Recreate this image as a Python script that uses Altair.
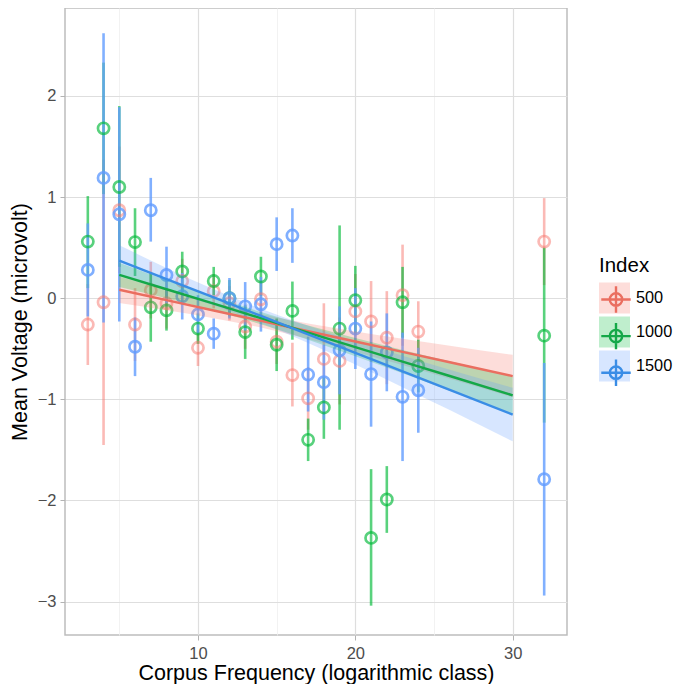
import altair as alt
import pandas as pd

# ---------------- data ----------------
series = ["500", "1000", "1500"]
freq = [3, 4, 5, 6, 7, 8, 9, 10, 11, 12, 13, 14, 15, 16, 17, 18, 19, 20, 21, 22, 23, 24, 32]

r_mean = [-0.26, -0.04, 0.87, -0.26, 0.08, -0.05, 0.17, -0.49, 0.07, -0.05, -0.28, -0.01,
          -0.43, -0.76, -0.99, -0.60, -0.62, -0.13, -0.23, -0.39, 0.03, -0.33, 0.56]
r_lo = [-0.66, -1.45, 0.25, -0.62, -0.20, -0.30, -0.05, -0.67, -0.10, -0.22, -0.50, -0.20,
        -0.65, -1.07, -1.30, -1.15, -1.05, -0.50, -0.63, -0.85, -0.47, -0.63, 0.13]
r_hi = [0.14, 1.37, 1.50, 0.10, 0.36, 0.20, 0.39, -0.31, 0.24, 0.12, -0.06, 0.18,
        -0.21, -0.44, -0.68, -0.05, -0.19, 0.24, 0.17, 0.07, 0.53, -0.03, 0.99]

g_mean = [0.56, 1.68, 1.10, 0.555, -0.09, -0.12, 0.265, -0.30, 0.17, 0.0, -0.335, 0.215,
          -0.46, -0.125, -1.40, -1.08, -0.30, -0.02, -2.37, -1.99, -0.04, -0.67, -0.37]
g_lo = [0.10, 1.03, 0.31, 0.22, -0.43, -0.32, 0.06, -0.45, 0.03, -0.18, -0.60, 0.02,
        -0.72, -0.41, -1.61, -1.39, -1.30, -0.36, -3.04, -2.32, -0.39, -0.93, -1.23]
g_hi = [1.01, 2.33, 1.90, 0.89, 0.25, 0.08, 0.46, -0.15, 0.31, 0.18, -0.07, 0.41,
        -0.20, 0.165, -1.19, -0.78, 0.72, 0.32, -1.69, -1.66, 0.31, -0.41, 0.50]

b_mean = [0.28, 1.19, 0.83, -0.48, 0.87, 0.23, 0.02, -0.16, -0.35, 0.0, -0.08, -0.06,
          0.535, 0.62, -0.755, -0.83, -0.515, -0.30, -0.75, -0.535, -0.975, -0.91, -1.79]
b_lo = [-0.18, -0.24, -0.23, -0.77, 0.56, -0.05, -0.21, -0.35, -0.50, -0.20, -0.32, -0.33,
        0.27, 0.35, -1.12, -1.20, -0.95, -0.70, -1.27, -0.92, -1.61, -1.33, -2.94]
b_hi = [0.74, 2.62, 1.89, -0.19, 1.19, 0.51, 0.25, 0.03, -0.20, 0.20, 0.16, 0.21,
        0.80, 0.89, -0.38, -0.46, -0.08, 0.10, -0.23, -0.15, -0.34, -0.49, -0.64]

# fitted regression lines with confidence bands (sampled along x)
fit_x = [5, 8, 11, 14, 17, 20, 23, 26, 30]
r_fit = [0.084, -0.018, -0.121, -0.223, -0.326, -0.428, -0.531, -0.633, -0.77]
r_flo = [-0.046, -0.118, -0.197, -0.289, -0.402, -0.528, -0.661, -0.796, -0.98]
r_fhi = [0.214, 0.082, -0.045, -0.157, -0.250, -0.328, -0.401, -0.470, -0.56]
g_fit = [0.232, 0.089, -0.054, -0.197, -0.340, -0.483, -0.626, -0.769, -0.96]
g_flo = [0.112, -0.001, -0.124, -0.257, -0.410, -0.573, -0.741, -0.914, -1.145]
g_fhi = [0.352, 0.179, 0.016, -0.137, -0.270, -0.393, -0.511, -0.624, -0.775]
b_fit = [0.373, 0.190, 0.008, -0.175, -0.358, -0.541, -0.724, -0.906, -1.150]
b_flo = [0.223, 0.080, -0.072, -0.245, -0.443, -0.656, -0.879, -1.106, -1.415]
b_fhi = [0.523, 0.300, 0.088, -0.105, -0.273, -0.426, -0.569, -0.706, -0.885]

x_ticks = [5, 10, 15, 20, 25, 30]
y_ticks = [-3, -2.5, -2, -1.5, -1, -0.5, 0, 0.5, 1, 1.5, 2, 2.5]

# ---------------- styles ----------------
point_colors = ["#F8766D", "#00BA38", "#619CFF"]
point_opacity = [0.5, 0.8, 0.5]
line_colors = ["#EA6E60", "#14A848", "#3A8DE6", "#000000"]
ribbon_colors = ["#F8766D", "#00BA38", "#619CFF", "#FFFFFF"]
FONT = "Liberation Sans"

rows = []
for s, m, lo, hi in zip(series, [r_mean, g_mean, b_mean], [r_lo, g_lo, b_lo], [r_hi, g_hi, b_hi]):
    for f, a, b, c in zip(freq, m, lo, hi):
        rows.append({"Index": s, "freq": f, "mean": a, "lo": b, "hi": c})
pts = pd.DataFrame(rows)

frows = []
for s, m, lo, hi in zip(series, [r_fit, g_fit, b_fit], [r_flo, g_flo, b_flo], [r_fhi, g_fhi, b_fhi]):
    for f, a, b, c in zip(fit_x, m, lo, hi):
        frows.append({"Index": s, "freq": f, "fit": a, "flo": b, "fhi": c})
fits = pd.DataFrame(frows)

x_axis = alt.Axis(
    values=x_ticks,
    format="d",
    labelExpr="datum.value % 10 === 0 ? datum.label : ''",
    gridColor={"condition": {"test": "datum.value % 10 !== 0", "value": "#EFEFEF"}, "value": "#DEDEDE"},
    gridWidth={"condition": {"test": "datum.value % 10 !== 0", "value": 0.8}, "value": 1.2},
    tickOpacity={"condition": {"test": "datum.value % 10 !== 0", "value": 0}, "value": 1},
    title="Corpus Frequency (logarithmic class)",
    labelPadding=5,
    titlePadding=1,
)
y_axis = alt.Axis(
    values=y_ticks,
    format="d",
    labelExpr="datum.value % 1 === 0 ? datum.label : ''",
    gridColor={"condition": {"test": "datum.value % 1 !== 0", "value": "#EFEFEF"}, "value": "#DEDEDE"},
    gridWidth={"condition": {"test": "datum.value % 1 !== 0", "value": 0.8}, "value": 1.2},
    tickOpacity={"condition": {"test": "datum.value % 1 !== 0", "value": 0}, "value": 1},
    title="Mean Voltage (microvolt)",
    labelPadding=4,
    titlePadding=6,
)
xs = alt.Scale(domain=[1.55, 33.45], nice=False, zero=False)
ys = alt.Scale(domain=[-3.33, 2.87], nice=False, zero=False)

color_enc = alt.Color("Index:N", scale=alt.Scale(domain=series, range=point_colors), legend=None)
opac_enc = alt.Opacity("Index:N", scale=alt.Scale(domain=series, range=point_opacity), legend=None)

base_pts = alt.Chart(pts)
rules = base_pts.mark_rule(strokeWidth=2.6).encode(
    x=alt.X("freq:Q", scale=xs, axis=x_axis),
    y=alt.Y("lo:Q", scale=ys, axis=y_axis),
    y2="hi:Q",
    color=color_enc,
    opacity=opac_enc,
)
points = base_pts.mark_point(shape="circle", filled=False, size=125, strokeWidth=2.7).encode(
    x=alt.X("freq:Q", scale=xs, axis=x_axis),
    y=alt.Y("mean:Q", scale=ys, axis=y_axis),
    color=color_enc,
    opacity=opac_enc,
)

legend_common = dict(
    title="Index", orient="none", legendX=534, legendY=248,
    titleFont=FONT, titleFontSize=20.5, titleFontWeight="normal",
    labelFont=FONT, labelFontSize=16.3,
    symbolSize=961, labelOffset=6, titlePadding=6,
    values=series,
)

band = alt.Chart(fits).mark_area(opacity=0.25, interpolate="monotone").encode(
    x=alt.X("freq:Q", scale=xs, axis=x_axis),
    y=alt.Y("flo:Q", scale=ys, axis=y_axis),
    y2="fhi:Q",
    fill=alt.Fill("Index:N",
                  scale=alt.Scale(domain=series + ["none"], range=ribbon_colors),
                  legend=alt.Legend(symbolType="square", symbolOpacity=0.25,
                                    symbolStrokeWidth=0, rowPadding=3,
                                    titleColor="#000000", labelColor="#000000",
                                    **legend_common)),
)

key_path = ("M-0.95,0L0.95,0M0,-0.85L0,0.85"
            "M0.4,0A0.4,0.4,0,1,1,-0.4,0A0.4,0.4,0,1,1,0.4,0")
line = alt.Chart(fits).mark_line(strokeWidth=2.4).encode(
    x=alt.X("freq:Q", scale=xs, axis=x_axis),
    y=alt.Y("fit:Q", scale=ys, axis=y_axis),
    stroke=alt.Stroke("Index:N", scale=alt.Scale(domain=series + ["other"], range=line_colors),
                      legend=alt.Legend(symbolType=key_path, symbolStrokeWidth=2.4,
                                        symbolFillColor="transparent", rowPadding=0.6,
                                        titleColor="transparent", labelColor="transparent",
                                        **legend_common)),
)

chart = (
    alt.layer(rules, points, band, line)
    .properties(
        width=502, height=627,
        padding={"left": 57, "top": 0, "right": 107, "bottom": 49},
        autosize=alt.AutoSizeParams(type="none"),
    )
    .configure_view(stroke="#BDBDBD", strokeWidth=1.5)
    .configure_axis(
        domain=False,
        labelFont=FONT, labelFontSize=16.5, labelColor="#4D4D4D",
        titleFont=FONT, titleFontSize=21.5, titleFontWeight="normal", titleColor="#000000",
        tickSize=5, tickColor="#B3B3B3", tickWidth=1,
    )
)

chart.save("out.html", embed_options={"renderer": "svg", "actions": False})
